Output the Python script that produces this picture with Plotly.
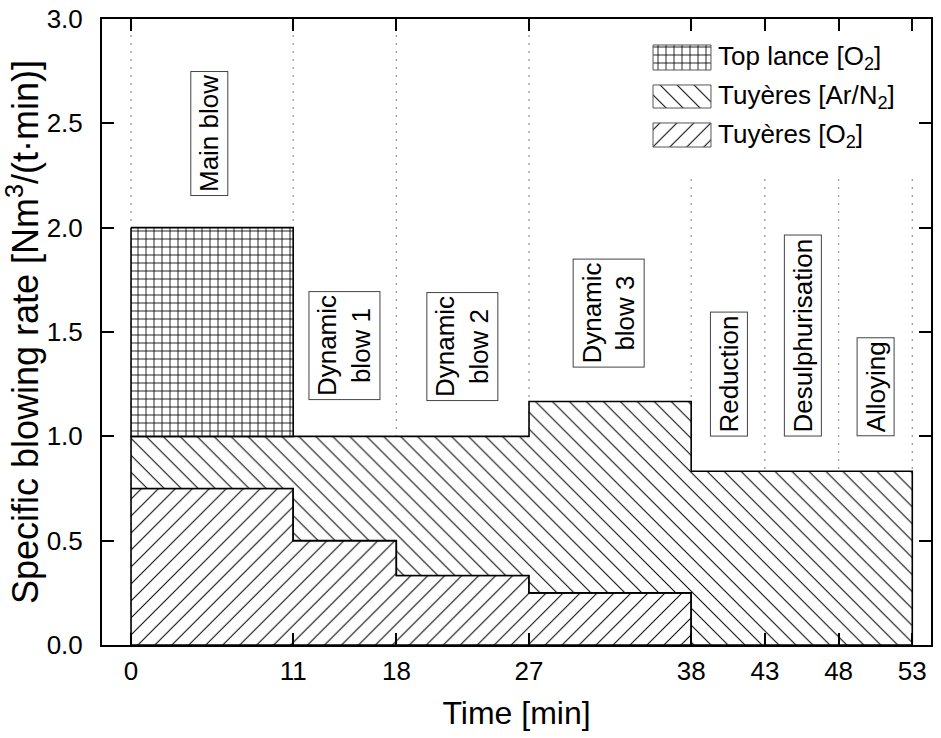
import plotly.graph_objects as go

# ---- data ----
t_edges = [0, 11, 18, 27, 38, 43, 48, 53]
phases = ["Main blow", "Dynamic<br>blow 1", "Dynamic<br>blow 2", "Dynamic<br>blow 3",
          "Reduction", "Desulphurisation", "Alloying"]
tuyere_o2 = [0.75, 0.5, 0.333, 0.25, 0.0, 0.0, 0.0]
tuyere_arn2 = [0.25, 0.5, 0.667, 0.917, 0.833, 0.833, 0.833]
top_lance_o2 = [1.0, 0.0, 0.0, 0.0, 0.0, 0.0, 0.0]
x_ticks = [0, 11, 18, 27, 38, 43, 48, 53]
y_ticks = [0.0, 0.5, 1.0, 1.5, 2.0, 2.5, 3.0]

# label placement (layout)
label_x = [5.3, 14.5, 22.5, 32.4, 40.55, 45.6, 50.5]
label_ybottom = [2.15, 1.175, 1.17, 1.33, 1.0, 1.0, 1.0]

FONT = "Liberation Sans, Arial, sans-serif"


def step_polygon(base, rate):
    idx = [i for i, r in enumerate(rate) if r > 0]
    xs, ys = [], []
    for i in idx:
        top = base[i] + rate[i]
        xs += [t_edges[i], t_edges[i + 1]]
        ys += [top, top]
    for i in reversed(idx):
        xs += [t_edges[i + 1], t_edges[i]]
        ys += [base[i], base[i]]
    xs.append(xs[0])
    ys.append(ys[0])
    return xs, ys


zero = [0.0] * len(tuyere_o2)
base_arn2 = tuyere_o2
base_top = [a + b for a, b in zip(tuyere_o2, tuyere_arn2)]

patterns = {
    "Top lance [O<sub>2</sub>]": dict(shape="+", size=8, solidity=0.2),
    "Tuyères [Ar/N<sub>2</sub>]": dict(shape="\\", size=12, solidity=0.085),
    "Tuyères [O<sub>2</sub>]": dict(shape="/", size=12, solidity=0.085),
}

fig = go.Figure()

layers = [
    ("Tuyères [O<sub>2</sub>]", zero, tuyere_o2),
    ("Tuyères [Ar/N<sub>2</sub>]", base_arn2, tuyere_arn2),
    ("Top lance [O<sub>2</sub>]", base_top, top_lance_o2),
]
for name, base, rate in layers:
    xs, ys = step_polygon(base, rate)
    p = patterns[name]
    fig.add_trace(go.Scatter(
        x=xs, y=ys, mode="lines", fill="toself", name=name,
        line=dict(color="black", width=1.6),
        fillpattern=dict(shape=p["shape"], size=p["size"], solidity=p["solidity"],
                         fgcolor="black", bgcolor="white", fillmode="replace"),
        fillcolor="white", showlegend=False, hoverinfo="skip"))

# custom legend (in an overlay axis of fractional plot coords)
leg_names = ["Top lance [O<sub>2</sub>]", "Tuyères [Ar/N<sub>2</sub>]", "Tuyères [O<sub>2</sub>]"]
leg_x0, leg_x1 = 0.6647, 0.7346
leg_rows = [(0.9185, 0.9585), (0.8578, 0.8946), (0.7955, 0.8339)]
for name, (y0, y1) in zip(leg_names, leg_rows):
    p = patterns[name]
    fig.add_trace(go.Scatter(
        x=[leg_x0, leg_x1, leg_x1, leg_x0, leg_x0], y=[y0, y0, y1, y1, y0],
        mode="lines", fill="toself", xaxis="x2", yaxis="y2",
        line=dict(color="#555", width=1),
        fillpattern=dict(shape=p["shape"], size=p["size"], solidity=p["solidity"],
                         fgcolor="black", bgcolor="white", fillmode="replace"),
        fillcolor="white", showlegend=False, hoverinfo="skip"))
    fig.add_annotation(xref="x2", yref="y2", x=0.741, y=(y0 + y1) / 2,
                       text=name, showarrow=False, xanchor="left", yanchor="middle",
                       font=dict(family=FONT, size=26, color="black"))

# dotted phase separators
for t in t_edges:
    ytop = 3.0 if t <= 27 else 2.25
    fig.add_shape(type="line", x0=t, x1=t, y0=0, y1=ytop, xref="x", yref="y",
                  line=dict(color="#9a9a9a", width=1.3, dash="2px,6px"), layer="below")

# phase labels
for txt, lx, ly in zip(phases, label_x, label_ybottom):
    fig.add_annotation(x=lx, y=ly, text=txt, textangle=-90, showarrow=False,
                       xanchor="center", yanchor="bottom",
                       font=dict(family=FONT, size=26, color="black"),
                       bordercolor="#444", borderwidth=1, borderpad=3, bgcolor="white")

axis_common = dict(showline=True, linecolor="black", linewidth=2, mirror="ticks",
                   ticks="inside", ticklen=12, tickwidth=2, tickcolor="black",
                   showgrid=False, zeroline=False, automargin=False,
                   tickfont=dict(family=FONT, size=26, color="black"))

fig.update_layout(
    width=941, height=738,
    margin=dict(l=102, r=10, t=19, b=93),
    paper_bgcolor="white", plot_bgcolor="white",
    showlegend=False,
    xaxis=dict(range=[-1.97, 54.27], tickvals=x_ticks, ticktext=[str(v) for v in x_ticks],
               title=dict(text="Time [min]", font=dict(family=FONT, size=32, color="black"),
                          standoff=16),
               ticklabelstandoff=2, **axis_common),
    yaxis=dict(range=[0, 3.0], tickvals=y_ticks, ticktext=[f"{v:.1f}" for v in y_ticks],
               title=dict(text="Specific blowing rate [Nm<sup>3</sup>/(t·min)]",
                          font=dict(family=FONT, size=36, color="black"), standoff=1),
               ticklabelstandoff=12, **axis_common),
    xaxis2=dict(overlaying="x", range=[0, 1], visible=False, fixedrange=True),
    yaxis2=dict(overlaying="y", range=[0, 1], visible=False, fixedrange=True),
)

fig.write_html("out.html", config={"displayModeBar": False},
               post_script="document.body.style.margin='0';")
